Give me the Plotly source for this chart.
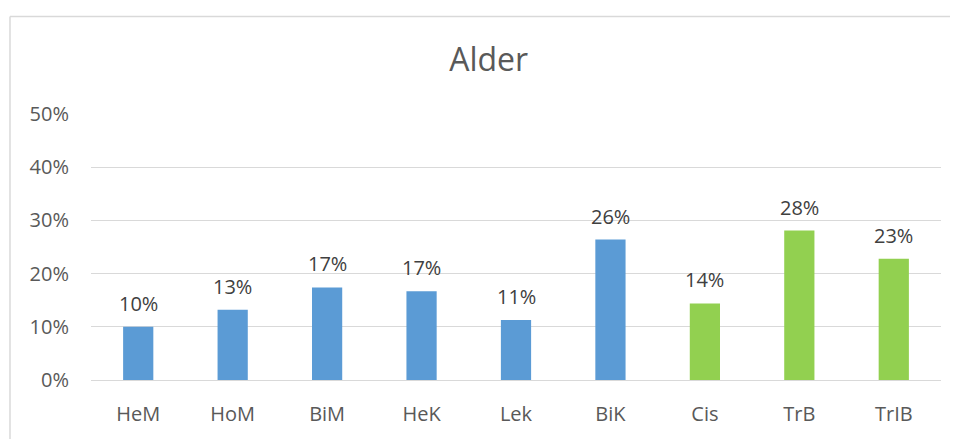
import plotly.graph_objects as go

categories = ['HeM', 'HoM', 'BiM', 'HeK', 'Lek', 'BiK', 'Cis', 'TrB', 'TrIB']
values = [0.100, 0.132, 0.174, 0.167, 0.113, 0.264, 0.144, 0.281, 0.228]
bar_colors = ['#5B9BD5'] * 6 + ['#92D050'] * 3
tick_vals = [0, 0.1, 0.2, 0.3, 0.4, 0.5]
tick_text = ['0%', '10%', '20%', '30%', '40%', '50%']

FONT = 'Open Sans, Liberation Sans, sans-serif'

fig = go.Figure()
fig.add_trace(go.Bar(
    x=categories, y=values,
    marker=dict(color=bar_colors, line=dict(width=0)),
    hoverinfo='x+y',
))

# Datenbeschriftungen über den Balken
for cat, v in zip(categories, values):
    fig.add_annotation(x=cat, y=v, text=f'{v * 100:.0f}%', showarrow=False,
                       yanchor='bottom', yshift=8,
                       font=dict(size=20, color='#404040', family=FONT))

# Rahmen des Diagrammbereichs (oben und links)
fig.add_shape(type='line', xref='paper', yref='paper',
              x0=-0.0953, x1=1.05, y0=1.367, y1=1.367,
              line=dict(color='#D9D9D9', width=1.5))
fig.add_shape(type='line', xref='paper', yref='paper',
              x0=-0.0953, x1=-0.0953, y0=1.367, y1=-0.3,
              line=dict(color='#D9D9D9', width=1.5))

fig.update_layout(
    title=dict(text='Alder', x=0.506, xanchor='center', y=0.879, yanchor='middle',
               font=dict(size=32, color='#595959')),
    width=950, height=431,
    margin=dict(l=83, r=17, t=106, b=55),
    paper_bgcolor='white', plot_bgcolor='white',
    font=dict(family=FONT, color='#595959'),
    bargap=0.68,
    showlegend=False,
    xaxis=dict(showgrid=False, showline=False, ticks='', ticklabelstandoff=20,
               tickfont=dict(size=20, color='#595959')),
    yaxis=dict(range=[0, 0.5], tickvals=tick_vals, ticktext=tick_text,
               showgrid=True, gridcolor='#D9D9D9', gridwidth=1.3,
               zeroline=True, zerolinecolor='#D9D9D9', zerolinewidth=1.3,
               ticks='', ticklabelstandoff=21,
               tickfont=dict(size=20, color='#595959')),
)

fig.write_html('out.html')
